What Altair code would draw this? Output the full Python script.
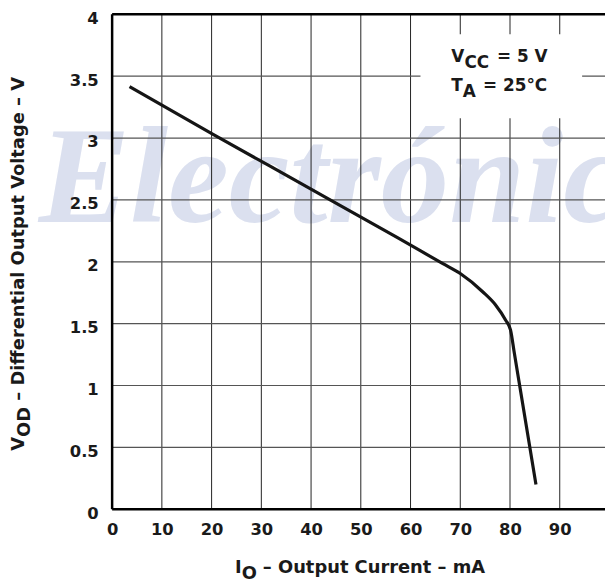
import altair as alt
import pandas as pd

# ---- data ----
current_mA = [3.5, 20.3, 39.9, 57.2, 66.5, 70.0, 74.5, 77.1, 79.1, 80.1, 80.86, 82.29, 85.22]
vod_V = [3.415, 3.03, 2.59, 2.199, 1.985, 1.905, 1.758, 1.651, 1.53, 1.45, 1.264, 0.916, 0.2]

x_ticks = [0, 10, 20, 30, 40, 50, 60, 70, 80, 90]
y_ticks = [0, 0.5, 1, 1.5, 2, 2.5, 3, 3.5, 4]
x_grid = [10, 20, 30, 40, 50, 60, 70, 80, 90]
y_grid = [0.5, 1, 1.5, 2, 2.5, 3, 3.5]
x_domain = [0, 99.1]
y_domain = [0, 4]

note_box_x = [62.0, 94.5]
note_box_y = [3.16, 3.84]

FONT = "DejaVu Sans"
TXT = "#1a1a1a"
W, H = 497, 499

xs = alt.Scale(domain=x_domain, nice=False, zero=False)
ys = alt.Scale(domain=y_domain, nice=False, zero=False)

x_axis = alt.Axis(values=x_ticks, title=None, grid=False, domain=False, ticks=False,
                  labelFont=FONT, labelFontWeight="bold", labelFontSize=16.5,
                  labelColor=TXT, labelPadding=13, labelFlush=False,
                  labelOverlap=False, labelExpr="datum.value + ''", zindex=1)
y_axis = alt.Axis(values=y_ticks, title=None, grid=False, domain=False, ticks=False,
                  labelFont=FONT, labelFontWeight="bold", labelFontSize=16.5,
                  labelColor=TXT, labelPadding=14, labelOffset=4, labelFlush=False,
                  labelOverlap=False, labelExpr="datum.value + ''", zindex=1)


def X(field="x"):
    return alt.X(field, type="quantitative", scale=xs, axis=x_axis)


def Y(field="y"):
    return alt.Y(field, type="quantitative", scale=ys, axis=y_axis)


# watermark
watermark = alt.Chart(pd.DataFrame({"t": ["Electrónica"]})).mark_text(
    font="Liberation Serif", fontStyle="italic", fontWeight="bold", fontSize=138,
    color="#dbe0ef", align="left", baseline="alphabetic"
).encode(x=alt.value(-74), y=alt.value(209), text="t:N")

vgrid = alt.Chart(pd.DataFrame({"x": x_grid})).mark_rule(
    color="#222222", strokeWidth=1).encode(x=X())
hgrid = alt.Chart(pd.DataFrame({"y": y_grid})).mark_rule(
    color="#555555", strokeWidth=1.2).encode(y=Y())

box = alt.Chart(pd.DataFrame({"x": [note_box_x[0]], "x2": [note_box_x[1]],
                              "y": [note_box_y[0]], "y2": [note_box_y[1]]})).mark_rect(
    fill="white").encode(x=X(), x2="x2", y=Y(), y2="y2")

vborder = alt.Chart(pd.DataFrame({"x": [x_domain[0]]})).mark_rule(
    color="black", strokeWidth=2.5).encode(x=X())
hborder = alt.Chart(pd.DataFrame({"y": y_domain})).mark_rule(
    color="black", strokeWidth=2.5).encode(y=Y())

curve = alt.Chart(pd.DataFrame({"x": current_mA, "y": vod_V})).mark_line(
    color="#151515", strokeWidth=3.2, interpolate="monotone").encode(x=X(), y=Y())


def label(text, x, y, size=18, angle=0):
    return alt.Chart(pd.DataFrame({"t": [text]})).mark_text(
        font=FONT, fontWeight="bold", fontSize=size, color=TXT, align="left",
        baseline="alphabetic", angle=angle
    ).encode(x=alt.value(x), y=alt.value(y), text="t:N")


notes = [
    label("V", 342, 48, 17), label("CC", 355.2, 54, 17), label("= 5 V", 388, 48, 17),
    label("T", 342, 77, 17), label("A", 353.6, 83, 17), label("= 25°C", 374, 77, 17),
]
xtitle = [label("I", 124, 563), label("O", 130.7, 569),
          label("– Output Current – mA", 152, 563)]
ytitle = [label("V", -89, 440, angle=270), label("OD", -83, 426.1, angle=270),
          label("– Differential Output Voltage – V", -89, 389.6, angle=270)]

chart = alt.layer(
    watermark, vgrid, hgrid, box, vborder, hborder, curve, *notes, *xtitle, *ytitle
).properties(
    width=W, height=H,
    autosize=alt.AutoSizeParams(type="none"),
    padding={"left": 105, "top": 4, "right": 0, "bottom": 74},
    background="white",
).configure_view(stroke=None)

chart.save("out.html", embed_options={"renderer": "svg", "actions": False})
